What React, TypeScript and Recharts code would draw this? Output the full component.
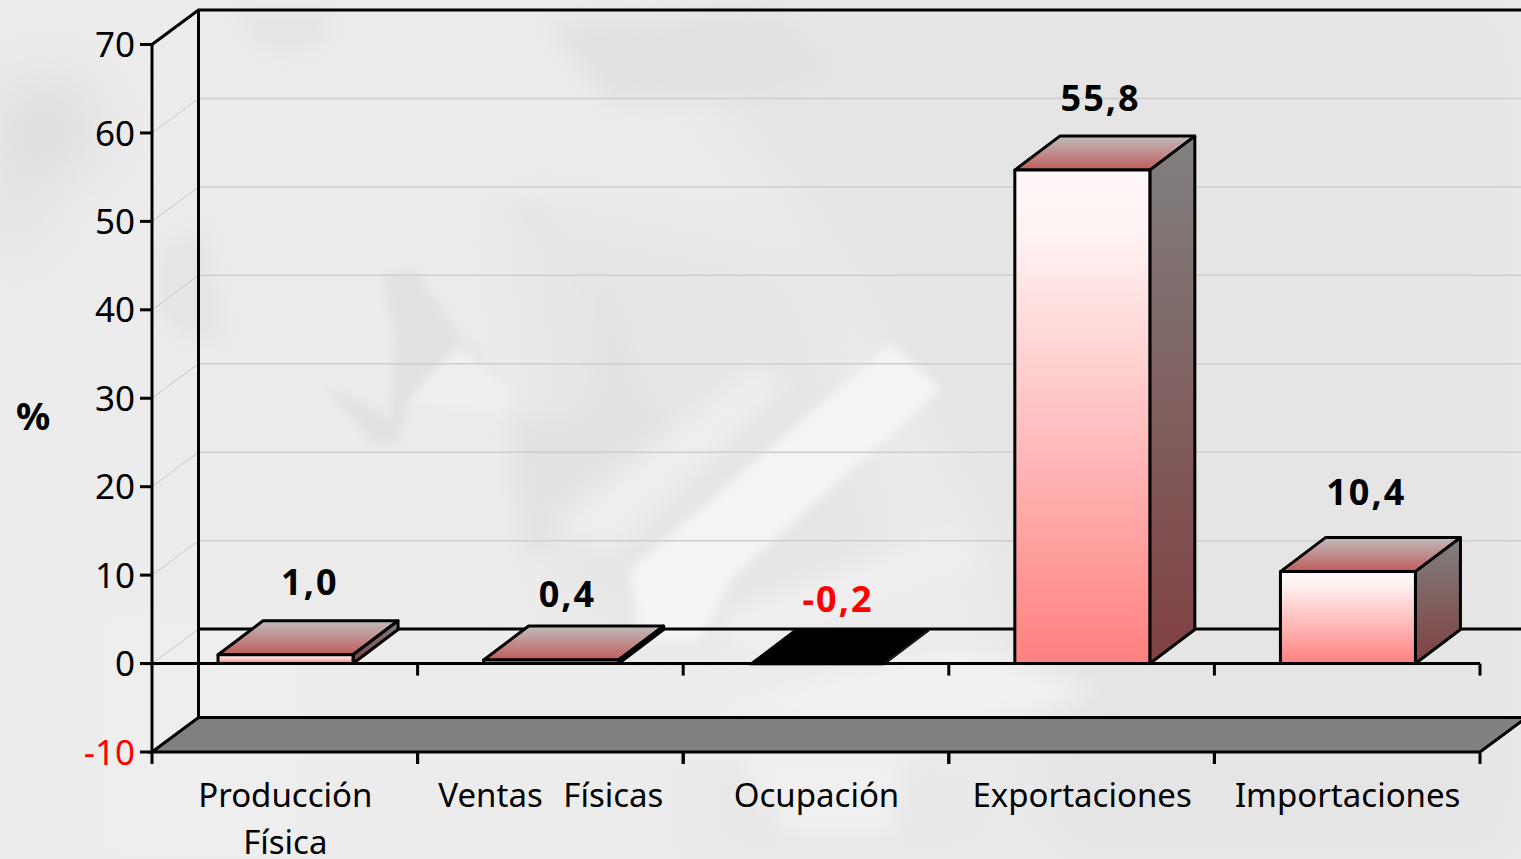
import {
  Bar,
  BarChart,
  CartesianGrid,
  LabelList,
  ReferenceLine,
  XAxis,
  YAxis,
} from "recharts";

const CATEGORY_LINES = [["Producción", "Física"], ["Ventas Físicas"], ["Ocupación"], ["Exportaciones"], ["Importaciones"]];
const CATEGORIES = CATEGORY_LINES.map((lines) => lines.join(" "));
const VALUES = [1.0, 0.4, -0.2, 55.8, 10.4];
const Y_TICKS = [-10, 0, 10, 20, 30, 40, 50, 60, 70];

// nudges for the hand placed data labels, relative to the back top edge of each bar
const LABEL_NUDGE_X = [25, 17, 22, 19, 19];
const LABEL_NUDGE_Y = [-26, -19, -18, -25, -33];

const rows = CATEGORIES.map((name, i) => ({ name, value: VALUES[i] }));

const WIDTH = 1521;
const HEIGHT = 859;
const PLOT_LEFT = 152;
const PLOT_RIGHT = 1480;
const PLOT_TOP = 44.5;
const PLOT_BOTTOM = 752;
const BAND = (PLOT_RIGHT - PLOT_LEFT) / CATEGORIES.length;
const UNIT = (PLOT_BOTTOM - PLOT_TOP) / 80;

const WALL_DX = 46.5;
const WALL_DY = 34.5;
const BAR_DX = 45;
const BAR_DY = 34;
const LINE = 3;
const FONT = "'Noto Sans', sans-serif";

const pts = (list: number[][]) => list.map((p) => p.join(",")).join(" ");

const GridRow = (props: any) => {
  const { y1, x1, x2, index } = props;
  const value = Math.round(70 - (y1 - PLOT_TOP) / UNIT);
  const backY = y1 - WALL_DY;
  const backLeft = x1 + WALL_DX;
  const backRight = x2 + WALL_DX;

  if (value === -10) {
    return (
      <polygon
        key={index}
        points={pts([[x1, y1], [backLeft, backY], [backRight, backY], [x2, y1]])}
        fill="#808080"
        stroke="#000"
        strokeWidth={3}
      />
    );
  }
  if (value === 70) {
    return (
      <g key={index}>
        <polyline
          points={pts([[x1, y1], [backLeft, backY], [backRight, backY]])}
          fill="none"
          stroke="#000"
          strokeWidth={LINE}
        />
        <line x1={backLeft} x2={backLeft} y1={backY} y2={PLOT_BOTTOM - WALL_DY} stroke="#000" strokeWidth={LINE} />
      </g>
    );
  }
  return (
    <g key={index}>
      <line x1={x1} y1={y1} x2={backLeft} y2={backY} stroke="#c8c8c8" strokeWidth={1} />
      <line
        x1={backLeft}
        y1={backY}
        x2={backRight}
        y2={backY}
        stroke={value === 0 ? "#000" : "#cdcdcd"}
        strokeWidth={value === 0 ? LINE : 1.5}
      />
    </g>
  );
};

const Bar3D = (props: any) => {
  const { x, y, width, height, value } = props;
  const left = x + 0.7;
  const top = Math.min(y, y + height);
  const bottom = Math.max(y, y + height);
  const right = left + width;
  const isNegative = value < 0;
  const topFace = [[left, top], [left + BAR_DX, top - BAR_DY], [right + BAR_DX, top - BAR_DY], [right, top]];
  const sideFace = [[right, top], [right + BAR_DX, top - BAR_DY], [right + BAR_DX, bottom - BAR_DY], [right, bottom]];

  if (isNegative) {
    return (
      <g>
        <polygon points={pts(topFace)} fill="#000" />
        <polygon points={pts(sideFace)} fill="#000" />
        <rect x={left} y={top} width={width} height={bottom - top} fill="#000" />
      </g>
    );
  }
  return (
    <g stroke="#000" strokeWidth={LINE} strokeLinejoin="round">
      <polygon points={pts(topFace)} fill="url(#barTop)" />
      <polygon points={pts(sideFace)} fill="url(#barSide)" />
      <rect x={left} y={top} width={width} height={bottom - top} fill="url(#barFront)" />
    </g>
  );
};

const BarValueLabel = (props: any) => {
  const { x, y, width, height, value, index } = props;
  const top = Math.min(y, y + height);
  return (
    <text
      x={x + width / 2 + LABEL_NUDGE_X[index]}
      y={top - BAR_DY + LABEL_NUDGE_Y[index]}
      textAnchor="middle"
      fontFamily={FONT}
      fontWeight={700}
      fontSize={36}
      letterSpacing={2}
      fill={value < 0 ? "#ff0000" : "#000"}
    >
      {value.toFixed(1).replace(".", ",")}
    </text>
  );
};

const CategoryTick = (props: any) => {
  const { x, y, index } = props;
  const left = x - BAND / 2;
  const right = x + BAND / 2;
  return (
    <g>
      <line x1={left} x2={left} y1={PLOT_BOTTOM} y2={PLOT_BOTTOM + 12} stroke="#000" strokeWidth={LINE} />
      <line x1={right} x2={right} y1={PLOT_BOTTOM} y2={PLOT_BOTTOM + 12} stroke="#000" strokeWidth={LINE} />
      <text textAnchor="middle" fontFamily={FONT} fontSize={33} wordSpacing={12} fill="#000">
        {CATEGORY_LINES[index].map((line, i) => (
          <tspan key={line} x={x + 0.5} y={y + 47 + i * 47}>
            {line}
          </tspan>
        ))}
      </text>
    </g>
  );
};

const ValueTick = (props: any) => {
  const { x, y, payload } = props;
  return (
    <text
      x={x}
      y={y}
      dy="0.36em"
      textAnchor="end"
      fontFamily={FONT}
      fontSize={35}
      fill={payload.value < 0 ? "#ff0000" : "#000"}
    >
      {payload.value}
    </text>
  );
};

// zero line sits in front of the bars, with its own set of ticks
const ZeroLine = (props: any) => {
  const { x1, x2, y1 } = props;
  return (
    <g>
      <line x1={x1 - 12} x2={x2} y1={y1} y2={y1} stroke="#000" strokeWidth={LINE} />
      {CATEGORIES.map((name, i) => (
        <line
          key={name}
          x1={x1 + BAND * (i + 1)}
          x2={x1 + BAND * (i + 1)}
          y1={y1}
          y2={y1 + 12}
          stroke="#000"
          strokeWidth={LINE}
        />
      ))}
    </g>
  );
};

const Backdrop = () => (
  <svg width={WIDTH} height={HEIGHT} style={{ position: "absolute", left: 0, top: 0 }}>
    <defs>
      <filter id="crisp" x="-20%" y="-20%" width="140%" height="140%">
        <feGaussianBlur stdDeviation="5" />
      </filter>
      <filter id="soft" x="-20%" y="-20%" width="140%" height="140%">
        <feGaussianBlur stdDeviation="11" />
      </filter>
      <filter id="softer" x="-30%" y="-30%" width="160%" height="160%">
        <feGaussianBlur stdDeviation="30" />
      </filter>
    </defs>
    <rect width={WIDTH} height={HEIGHT} fill="#ececec" />
    <g filter="url(#softer)">
      <polygon points="640,0 1521,0 1521,859 1050,859 1000,560 830,240" fill="#e5e5e5" />
      <polygon points="510,202 800,260 900,560 700,640 560,600" fill="#e6e6e6" />
      <polygon points="700,760 1000,760 1000,859 700,859" fill="#e8e8e8" />
      <polygon points="0,91 64,75 108,138 70,166 38,175 30,245 0,245" fill="#dcdcdc" />
    </g>
    <g filter="url(#soft)">
      <polygon points="232,15 335,15 320,45 274,52" fill="#e4e4e4" />
      <polygon points="545,24 780,15 830,70 760,95 612,103" fill="#e1e1e1" />
      <polygon points="160,250 205,225 225,340 190,340 155,310" fill="#e5e5e5" />
      <polygon points="505,202 530,205 600,300 590,400 565,415 510,420 525,555 610,520 700,470 640,380 620,300" fill="#e2e2e2" />
      <polygon points="752,368 790,380 612,553 548,525" fill="#eeeeee" />
      <polygon points="953,533 982,560 740,660 718,617" fill="#efefef" />
      <polygon points="700,716 1020,716 1105,690 960,650 780,690" fill="#f1f1f1" />
      <polygon points="735,753 905,753 894,833 790,833" fill="#f0f0f0" />
      <polygon points="100,600 300,640 300,859 100,859" fill="#eeeeee" />
    </g>
    <g filter="url(#crisp)">
      <polygon points="383,275 415,270 460,335 510,387 504,415 408,400 398,445 375,445 325,385 390,418 395,340" fill="#e1e1e1" />
      <polygon points="459,344 510,387 504,415 408,400" fill="#efefef" />
      <polygon points="890,344 941,389 733,577 700,640 640,640 630,570" fill="#f4f4f4" />
    </g>
  </svg>
);

export default function App() {
  return (
    <div style={{ position: "fixed", left: 0, top: 0, width: WIDTH, height: HEIGHT, overflow: "hidden" }}>
      <Backdrop />
      <div style={{ position: "absolute", left: 0, top: 0 }}>
        <BarChart
          width={WIDTH}
          height={HEIGHT}
          data={rows}
          barCategoryGap="24.6%"
          margin={{ top: PLOT_TOP, right: WIDTH - PLOT_RIGHT, bottom: 0, left: 0 }}
        >
          <defs>
            <linearGradient id="barFront" x1="0" y1="0" x2="0" y2="1">
              <stop offset="0" stopColor="#fff8f8" />
              <stop offset="0.12" stopColor="#fff4f4" />
              <stop offset="1" stopColor="#ff8080" />
            </linearGradient>
            <linearGradient id="barSide" x1="0" y1="0" x2="0" y2="1">
              <stop offset="0" stopColor="#808080" />
              <stop offset="1" stopColor="#804040" />
            </linearGradient>
            <linearGradient id="barTop" x1="0" y1="0" x2="0" y2="1">
              <stop offset="0" stopColor="#c0bcbc" />
              <stop offset="1" stopColor="#c05c5c" />
            </linearGradient>
          </defs>
          <CartesianGrid vertical={false} horizontal={GridRow} />
          <XAxis
            dataKey="name"
            interval={0}
            axisLine={false}
            tickLine={false}
            height={HEIGHT - PLOT_BOTTOM}
            tick={CategoryTick}
          />
          <YAxis
            width={PLOT_LEFT}
            domain={[-10, 70]}
            ticks={Y_TICKS}
            interval={0}
            tickSize={12}
            tickMargin={5}
            axisLine={{ stroke: "#000", strokeWidth: LINE }}
            tickLine={{ stroke: "#000", strokeWidth: LINE }}
            tick={ValueTick}
            label={{
              value: "%",
              position: "insideLeft",
              dx: 11,
              dy: 18,
              style: { fontFamily: FONT, fontWeight: 700, fontSize: 38, fill: "#000" },
            }}
          />
          <Bar dataKey="value" shape={Bar3D} isAnimationActive={false}>
            <LabelList dataKey="value" content={BarValueLabel} />
          </Bar>
          <ReferenceLine y={0} shape={ZeroLine} />
        </BarChart>
      </div>
    </div>
  );
}
